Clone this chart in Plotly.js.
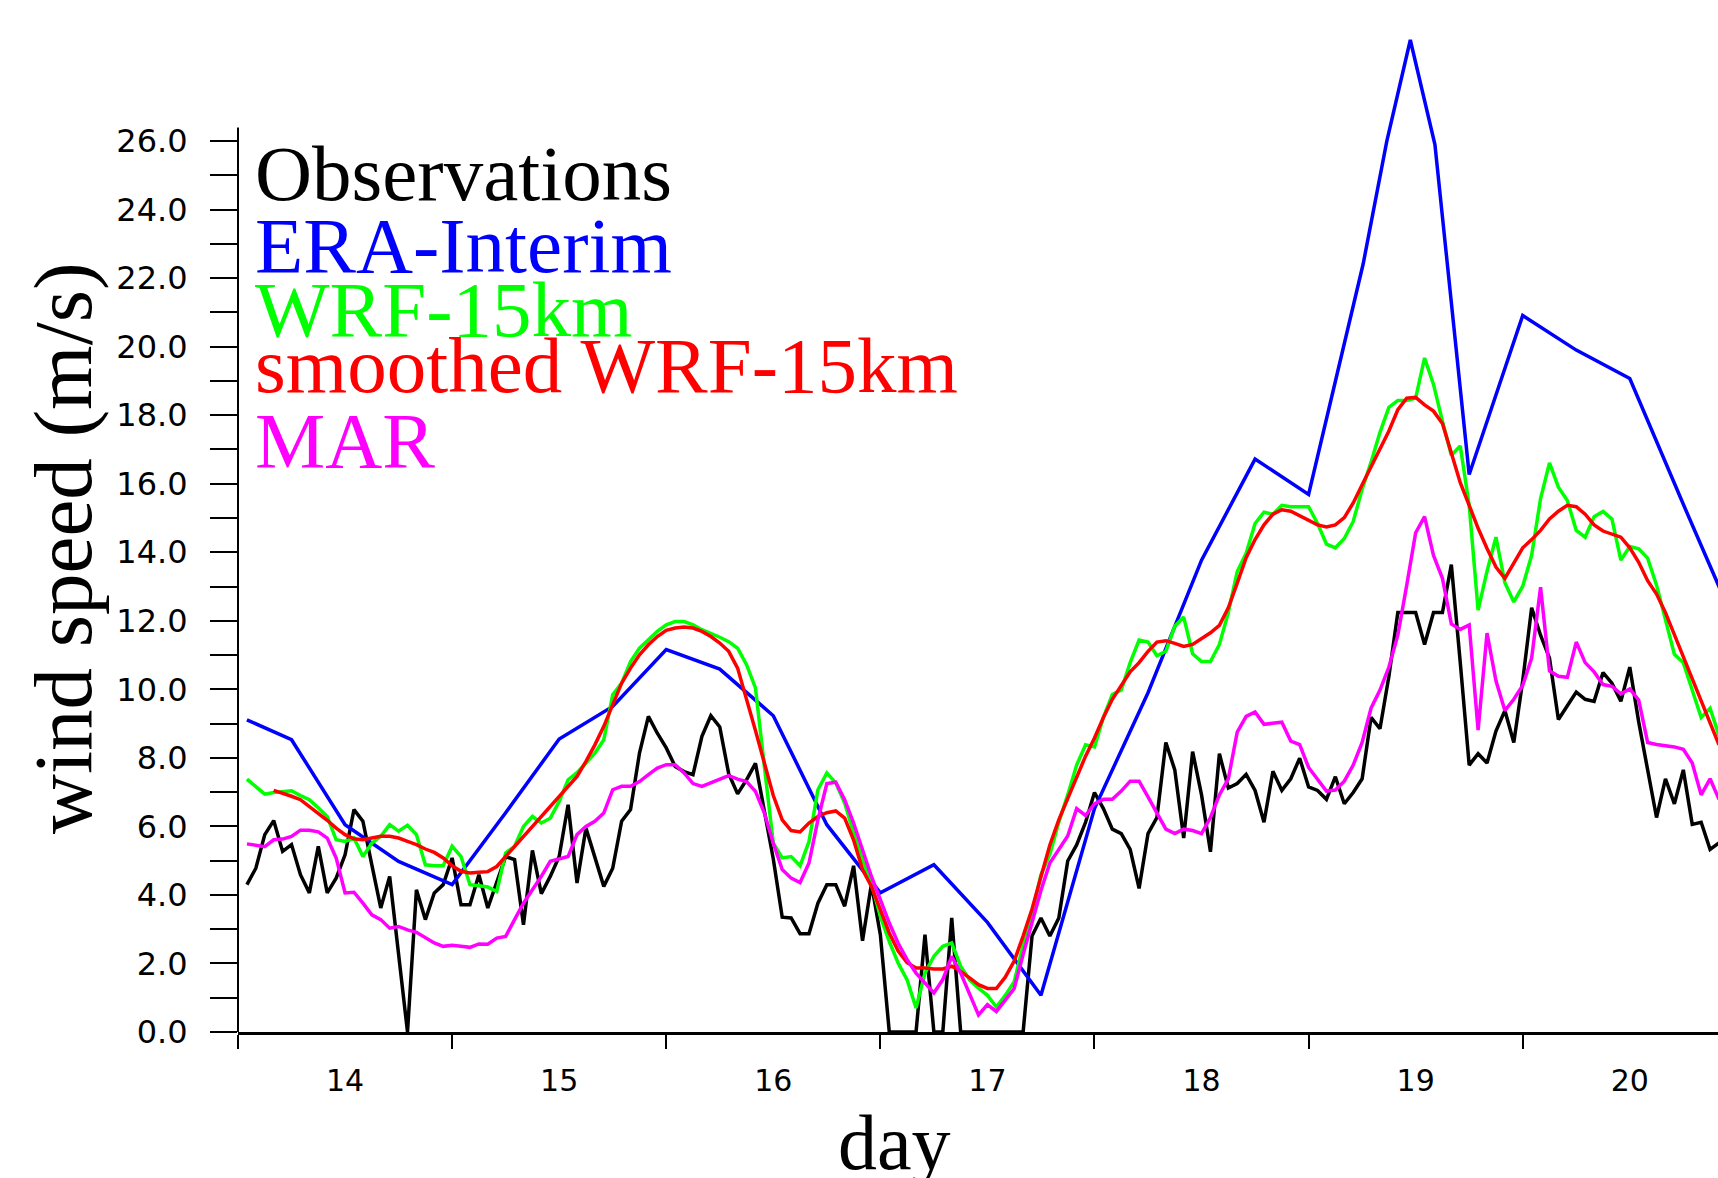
<!DOCTYPE html>
<html><head><meta charset="utf-8">
<script src="https://cdn.plot.ly/plotly-3.0.1.min.js"></script>
<style>html,body{margin:0;padding:0;background:#fff;overflow:hidden}#chart{width:1718px;height:1178px}</style>
</head><body><div id="chart"></div>
<script>
// ---- data (wind speed, m/s) ----
// hourly series start at day 13, 13:00
const hourlyStartDay = 13 + 13/24;
const smoothStartDay = 13 + 16/24;
const obsSpeed = [4.30,4.78,5.76,6.17,5.27,5.47,4.59,4.06,5.42,4.06,
 4.49,5.17,6.49,6.15,4.88,3.62,4.54,2.2,0.0,4.15,
 3.28,4.06,4.30,5.08,3.71,3.71,4.59,3.62,4.40,5.12,
 5.03,3.13,5.30,4.04,4.54,5.12,6.63,4.35,5.95,5.12,
 4.25,4.78,6.15,6.49,8.14,9.21,8.72,8.29,7.75,7.60,
 7.51,8.63,9.23,8.90,7.54,6.95,7.36,7.84,6.45,5.05,
 3.35,3.33,2.87,2.87,3.76,4.30,4.30,3.67,4.85,2.66,
 4.32,2.84,0,0,0,0,2.84,0,0,3.33,
 0,0,0,0,0,0,0,0,2.80,3.33,
 2.80,3.33,4.99,5.46,6.12,6.99,6.52,5.92,5.79,5.33,
 4.19,5.79,6.26,8.45,7.65,5.66,8.18,6.92,5.26,8.12,
 7.12,7.25,7.52,7.05,6.12,7.61,7.05,7.39,7.99,7.15,
 7.05,6.79,7.45,6.66,6.99,7.39,9.18,8.85,10.38,12.24,
 12.24,12.24,11.31,12.24,12.24,13.64,10.78,7.79,8.12,7.85,
 8.78,9.38,8.45,10.25,12.38,11.58,10.91,9.12,9.52,9.92,
 9.71,9.65,10.49,10.18,9.65,10.65,9.05,7.72,6.26,7.39,
 6.66,7.65,6.06,6.12,5.33,5.52];
const wrfSpeed = [7.38,7.15,6.94,6.99,7.01,7.04,6.90,6.78,6.54,6.29,
 5.61,5.56,5.66,5.12,5.51,5.71,6.05,5.86,6.03,5.76,
 4.88,4.85,4.85,5.42,5.12,4.30,4.27,4.23,4.10,5.22,
 5.42,6.00,6.29,6.10,6.24,6.73,7.36,7.57,7.85,8.14,
 8.53,9.84,10.18,10.81,11.20,11.43,11.69,11.88,11.98,11.98,
 11.88,11.74,11.64,11.52,11.39,11.20,10.72,10.04,7.75,5.51,
 5.08,5.12,4.85,5.56,7.07,7.56,7.27,6.68,5.81,5.03,
 4.35,3.37,2.64,2.01,1.52,0.70,1.72,2.21,2.50,2.60,
 1.92,1.52,1.28,1.07,0.73,1.07,1.47,2.53,3.46,4.59,
 5.19,6.12,6.92,7.79,8.38,8.32,9.18,9.85,9.98,10.78,
 11.44,11.38,10.98,11.11,11.84,12.11,11.04,10.81,10.81,11.31,
 12.24,13.44,13.97,14.84,15.17,15.11,15.37,15.33,15.33,15.33,
 14.84,14.24,14.13,14.40,14.90,15.84,16.63,17.50,18.23,18.43,
 18.43,18.50,19.67,18.90,17.83,16.83,17.10,15.37,12.31,13.45,
 14.44,13.11,12.55,13.01,13.91,15.57,16.61,15.90,15.51,14.64,
 14.44,15.04,15.19,14.97,13.77,14.17,14.10,13.83,13.04,12.04,
 11.02,10.78,9.98,9.18,9.45,8.65];
const smoothSpeed = [7.05,6.97,6.88,6.78,6.58,6.39,6.18,5.95,5.76,5.64,
 5.61,5.66,5.71,5.71,5.66,5.56,5.47,5.34,5.24,5.08,
 4.85,4.69,4.64,4.66,4.68,4.83,5.12,5.42,5.71,6.00,
 6.29,6.58,6.88,7.17,7.46,7.90,8.38,8.92,9.55,10.18,
 10.62,11.01,11.30,11.54,11.72,11.79,11.82,11.79,11.69,11.54,
 11.35,11.11,10.62,9.75,8.80,7.85,6.90,6.19,5.88,5.84,
 6.10,6.29,6.40,6.45,6.24,5.60,4.74,4.25,3.57,2.89,
 2.36,2.02,1.87,1.87,1.84,1.84,1.92,1.77,1.58,1.38,
 1.27,1.27,1.60,2.07,2.80,3.59,4.53,5.46,6.19,6.79,
 7.45,8.05,8.58,9.18,9.71,10.11,10.51,10.78,11.11,11.38,
 11.42,11.34,11.25,11.31,11.47,11.65,11.87,12.38,13.10,13.84,
 14.37,14.80,15.11,15.24,15.20,15.07,14.94,14.80,14.74,14.80,
 15.01,15.44,15.97,16.50,17.03,17.54,18.16,18.50,18.52,18.30,
 18.12,17.76,16.90,16.03,15.37,14.70,14.11,13.57,13.24,13.68,
 14.13,14.37,14.64,14.97,15.20,15.37,15.33,15.11,14.80,14.62,
 14.53,14.44,14.13,13.71,13.17,12.78,12.24,11.60,10.98,10.35,
 9.71,9.05,8.38];
const marSpeed = [5.49,5.46,5.41,5.61,5.63,5.71,5.89,5.89,5.84,5.66,
 5.08,4.06,4.08,3.76,3.42,3.28,3.03,3.08,2.98,2.91,
 2.74,2.60,2.50,2.53,2.50,2.47,2.57,2.56,2.74,2.79,
 3.28,3.76,4.15,4.54,4.98,5.05,5.12,5.76,6.00,6.15,
 6.39,7.07,7.17,7.17,7.31,7.51,7.70,7.80,7.80,7.56,
 7.25,7.17,7.27,7.38,7.48,7.38,7.31,7.02,6.39,5.51,
 4.74,4.49,4.36,4.93,6.19,7.25,7.29,6.78,6.10,5.32,
 4.54,3.86,3.18,2.59,2.11,1.72,1.43,1.14,1.53,2.21,
 1.72,1.14,0.50,0.80,0.60,0.93,1.27,2.26,3.20,4.13,
 4.93,5.33,5.72,6.52,6.32,6.66,6.79,6.79,7.03,7.32,
 7.32,6.86,6.39,5.92,5.79,5.92,5.88,5.79,6.26,6.92,
 7.39,8.75,9.21,9.34,8.98,9.00,9.04,8.49,8.39,7.72,
 7.39,7.03,7.06,7.32,7.79,8.45,9.45,9.98,10.65,11.58,
 13.04,14.57,15.04,13.91,13.24,11.91,11.75,11.88,8.81,11.64,
 10.25,9.38,9.71,10.11,10.91,12.98,10.54,10.38,10.35,11.38,
 10.78,10.51,10.14,10.09,9.87,10.01,9.69,8.45,8.39,8.36,
 8.32,8.25,7.85,6.92,7.39,6.79];
const eraDay = [13.5417,13.75,14.0,14.25,14.5,14.75,15.0,15.25,15.5,15.75,16.0,16.25,16.5,16.75,17.0,17.25,17.5,17.75,18.0,18.25,18.5,18.755,18.865,18.975,19.09,19.25,19.5,19.75,20.0,20.25,20.5];
const eraSpeed = [9.11,8.53,6.05,4.98,4.30,6.40,8.55,9.50,11.16,10.59,9.23,6.05,4.06,4.88,3.20,1.07,6.52,9.90,13.77,16.72,15.69,22.42,25.99,28.95,25.90,16.27,20.91,19.90,19.07,15.40,11.80];
const dayTicks = [14,15,16,17,18,19,20];
const dayMinorTicks = [13.5,14.5,15.5,16.5,17.5,18.5,19.5,20.5];
const speedTicks = [0,2,4,6,8,10,12,14,16,18,20,22,24,26];
const speedMinorTicks = [1,3,5,7,9,11,13,15,17,19,21,23,25];
const legendLabels = ['Observations','ERA-Interim','WRF-15km','smoothed WRF-15km','MAR'];
const legendColors = ['#000000','#0000ff','#00ff00','#ff0000','#ff00ff'];

// ---- layout helpers ----
const W = 1718, H = 1178;
const M = {l:238, r:0, t:3, b:146};
const PW = W - M.l - M.r, PH = H - M.t - M.b;
const px = X => (X - M.l) / PW;
const py = Y => (H - M.b - Y) / PH;
const hours = (start, n) => Array.from({length:n}, (_, i) => start + i/24);

const lw = 3.5;
const traces = [
  {x: hours(hourlyStartDay, obsSpeed.length), y: obsSpeed, name: legendLabels[0], line:{color:legendColors[0], width:lw}},
  {x: eraDay, y: eraSpeed, name: legendLabels[1], line:{color:legendColors[1], width:lw}},
  {x: hours(hourlyStartDay, wrfSpeed.length), y: wrfSpeed, name: legendLabels[2], line:{color:legendColors[2], width:lw}},
  {x: hours(smoothStartDay, smoothSpeed.length), y: smoothSpeed, name: legendLabels[3], line:{color:legendColors[3], width:lw}},
  {x: hours(hourlyStartDay, marSpeed.length), y: marSpeed, name: legendLabels[4], line:{color:legendColors[4], width:lw}}
].map(t => Object.assign({type:'scatter', mode:'lines', hoverinfo:'skip'}, t));

const serif = 'Liberation Serif, Times New Roman, serif';
const legendBaselines = [200, 272, 336, 391, 466];
const annotations = legendLabels.map((t, i) => ({
  text: t, xref:'paper', yref:'paper', x: px(254), y: py(legendBaselines[i] - 26),
  xanchor:'left', yanchor:'middle', showarrow:false, borderpad:0,
  font:{family:serif, size:79, color:legendColors[i]}
}));
annotations.push({text:'day', xref:'paper', yref:'paper', x: px(894), y: py(1168 - 26),
  xanchor:'center', yanchor:'middle', showarrow:false, borderpad:0,
  font:{family:serif, size:78, color:'#000'}});
annotations.push({text:'wind speed (m/s)', xref:'paper', yref:'paper', x: px(63), y: py(548),
  xanchor:'center', yanchor:'middle', showarrow:false, textangle:-90, borderpad:0,
  font:{family:serif, size:83, color:'#000'}});

const layout = {
  width: W, height: H, margin: M, showlegend:false,
  paper_bgcolor:'#fff', plot_bgcolor:'#fff',
  xaxis: {range:[13.5, 20.412], showgrid:false, zeroline:false,
    showline:true, linecolor:'#000', linewidth:2.5,
    tickmode:'array', tickvals: dayTicks, ticktext: dayTicks.map(String),
    ticks:'outside', ticklen:14, tickcolor:'rgba(0,0,0,0)', ticklabelstandoff:6,
    tickfont:{family:'DejaVu Sans', size:30, color:'#000'},
    minor:{tickmode:'array', tickvals: dayMinorTicks, ticks:'outside', ticklen:14, tickwidth:2, tickcolor:'#000', showgrid:false}
  },
  yaxis: {range:[0, 30.03], showgrid:false, zeroline:false, showline:false,
    tickmode:'array', tickvals: speedTicks, ticktext: speedTicks.map(v => v.toFixed(1)),
    ticks:'outside', ticklen:27, tickwidth:2, tickcolor:'#000', ticklabelstandoff:16,
    tickfont:{family:'DejaVu Sans', size:32, color:'#000'},
    minor:{tickmode:'array', tickvals: speedMinorTicks, ticks:'outside', ticklen:27, tickwidth:2, tickcolor:'#000', showgrid:false}
  },
  shapes: [{type:'line', xref:'paper', yref:'y', x0:0, x1:0, y0:0, y1:26.4, line:{color:'#000', width:2}, layer:'above'}],
  annotations
};
Plotly.newPlot('chart', traces, layout, {staticPlot:true, displayModeBar:false});
</script></body></html>
